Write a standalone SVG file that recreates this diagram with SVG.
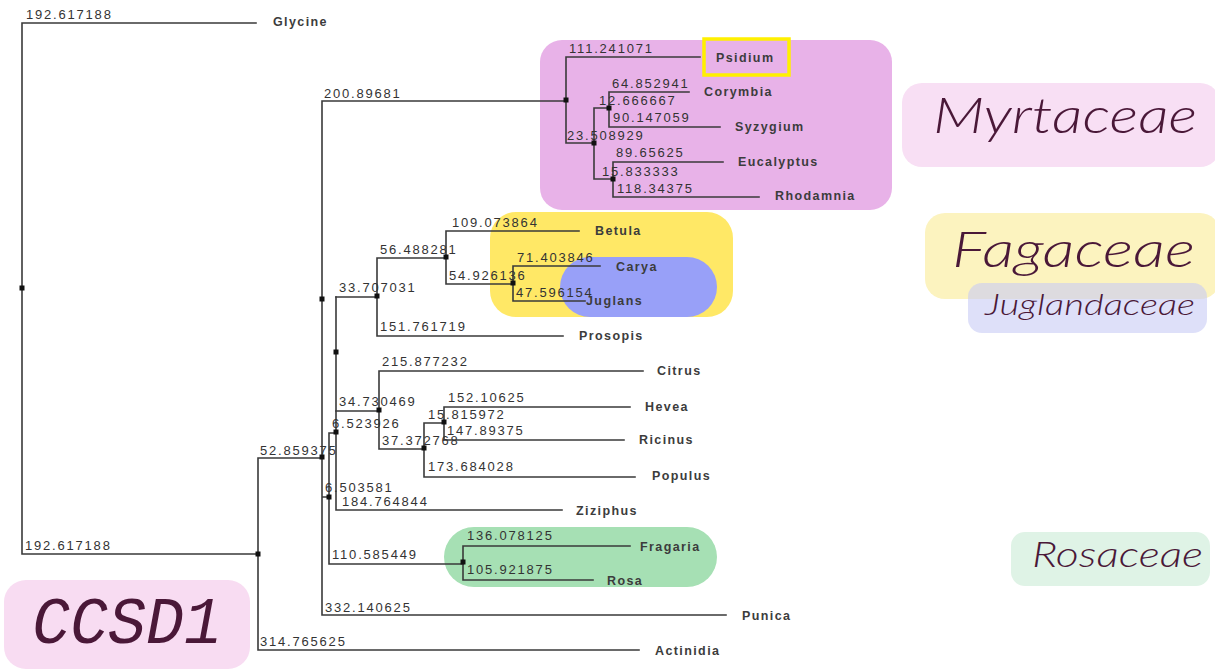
<svg xmlns="http://www.w3.org/2000/svg" width="1215" height="670" viewBox="0 0 1215 670">
<style>
.br{stroke:#3a3a3a;stroke-width:1.6;fill:none;stroke-linecap:square}
.dot{fill:#111}
.bl{font-family:"Liberation Sans",Arial,sans-serif;font-size:13px;fill:#333;letter-spacing:1.8px}
.tip{font-family:"Liberation Sans",Arial,sans-serif;font-size:12.5px;font-weight:bold;fill:#3c3c3c;letter-spacing:1.4px}
.fam{font-family:Lato,"Noto Sans",sans-serif;font-style:italic;font-weight:300;fill:#4a1838}
.ccsd{font-family:"Liberation Mono","DejaVu Sans Mono",monospace;font-style:italic;fill:#4a1838}
</style>
<rect width="1215" height="670" fill="#ffffff"/>

<g id="highlights">
  <rect x="540" y="40" width="352" height="170" rx="22" fill="#e8b2e8"/>
  <rect x="490" y="212" width="243" height="105" rx="26" fill="#ffe866"/>
  <rect x="560" y="257" width="157" height="60" rx="30" fill="#98a0f8"/>
  <rect x="444" y="527" width="273" height="60" rx="30" fill="#a6e0b4"/>
  <rect x="704" y="39" width="85" height="36" fill="none" stroke="#fff000" stroke-width="3.5"/>
</g>

<g id="legend">
  <g id="fam-myrtaceae">
    <rect x="902" y="83" width="318" height="84" rx="20" fill="#f8dff4"/>
    <text class="fam" x="933" y="133" font-size="50" textLength="264" lengthAdjust="spacingAndGlyphs">Myrtaceae</text>
  </g>
  <g id="fam-fagaceae">
    <rect x="925" y="213" width="295" height="86" rx="20" fill="#fcf3bf"/>
    <text class="fam" x="952" y="267" font-size="50" textLength="243" lengthAdjust="spacingAndGlyphs">Fagaceae</text>
  </g>
  <g id="fam-juglandaceae">
    <rect x="968" y="283" width="239" height="50" rx="14" fill="#c8cbf5" fill-opacity="0.6"/>
    <text class="fam" x="985" y="315" font-size="30" textLength="210" lengthAdjust="spacingAndGlyphs">Juglandaceae</text>
  </g>
  <g id="fam-rosaceae">
    <rect x="1011" y="532" width="199" height="54" rx="14" fill="#dff3e6"/>
    <text class="fam" x="1032" y="567" font-size="35" textLength="171" lengthAdjust="spacingAndGlyphs">Rosaceae</text>
  </g>
  <g id="title-ccsd1">
    <rect x="4" y="580" width="246" height="89" rx="22" fill="#f8dcf2"/>
    <text class="ccsd" x="32" y="643" font-size="66" textLength="190" lengthAdjust="spacingAndGlyphs">CCSD1</text>
  </g>
</g>

<g id="connectors" class="br">
  <path d="M22 23V554M22 23H256M22 554H258"/>
  <path d="M258 458V650M258 458H322M258 650H639"/>
  <path d="M322 101V615M322 615H726M322 101H566M322 497H329"/>
  <path d="M566 57V143M566 57H700M566 143H594"/>
  <path d="M594 108V179M594 108H609M594 179H613"/>
  <path d="M609 92V127M609 92H689M609 127H720"/>
  <path d="M613 162V197M613 162H723M613 197H759"/>
  <path d="M329 433V564M329 433H336M329 564H463"/>
  <path d="M336 297V510M336 510H562"/>
  <path d="M336 297H377M336 411H379"/>
  <path d="M377 258V336M377 258H446M377 336H563"/>
  <path d="M446 231V284M446 231H579M446 284H513"/>
  <path d="M513 266V301M513 266H600M513 301H585"/>
  <path d="M379 371V449M379 371H643M379 449H424"/>
  <path d="M424 423V477M424 423H444M424 477H635"/>
  <path d="M444 407V440M444 407H630M444 440H624"/>
  <path d="M463 546V580M463 546H630M463 580H593"/>
</g>

<g id="internal-nodes">
  <rect id="n-root" class="dot" x="19.5" y="285.5" width="5" height="5"/>
  <rect id="n-u" class="dot" x="255.5" y="551.5" width="5" height="5"/>
  <rect id="n-v" class="dot" x="319.5" y="454.5" width="5" height="5"/>
  <rect id="n-w" class="dot" x="319.5" y="296.5" width="5" height="5"/>
  <rect id="n-m" class="dot" x="563.5" y="97.5" width="5" height="5"/>
  <rect id="n-n" class="dot" x="591.5" y="140.5" width="5" height="5"/>
  <rect id="n-p" class="dot" x="606.5" y="105.5" width="5" height="5"/>
  <rect id="n-q" class="dot" x="610.5" y="176.5" width="5" height="5"/>
  <rect id="n-z" class="dot" x="326.5" y="494.5" width="5" height="5"/>
  <rect id="n-y" class="dot" x="333.5" y="429.5" width="5" height="5"/>
  <rect id="n-x" class="dot" x="333.5" y="349.5" width="5" height="5"/>
  <rect id="n-f" class="dot" x="374.5" y="293.5" width="5" height="5"/>
  <rect id="n-b" class="dot" x="443.5" y="254.5" width="5" height="5"/>
  <rect id="n-j" class="dot" x="510.5" y="280.5" width="5" height="5"/>
  <rect id="n-c" class="dot" x="376.5" y="407.5" width="5" height="5"/>
  <rect id="n-e" class="dot" x="421.5" y="445.5" width="5" height="5"/>
  <rect id="n-g" class="dot" x="441.5" y="419.5" width="5" height="5"/>
  <rect id="n-r" class="dot" x="460.5" y="559.5" width="5" height="5"/>
</g>

<g id="branch-lengths">
  <text class="bl" x="26" y="19">192.617188</text>
  <text class="bl" x="324" y="98">200.89681</text>
  <text class="bl" x="569" y="53">111.241071</text>
  <text class="bl" x="612" y="88">64.852941</text>
  <text class="bl" x="599" y="105">12.666667</text>
  <text class="bl" x="613" y="122">90.147059</text>
  <text class="bl" x="567" y="140">23.508929</text>
  <text class="bl" x="616" y="157">89.65625</text>
  <text class="bl" x="602" y="176">15.833333</text>
  <text class="bl" x="617" y="193">118.34375</text>
  <text class="bl" x="452" y="227">109.073864</text>
  <text class="bl" x="380" y="254">56.488281</text>
  <text class="bl" x="517" y="262">71.403846</text>
  <text class="bl" x="449" y="280">54.926136</text>
  <text class="bl" x="339" y="292">33.707031</text>
  <text class="bl" x="516" y="297">47.596154</text>
  <text class="bl" x="380" y="331">151.761719</text>
  <text class="bl" x="382" y="366">215.877232</text>
  <text class="bl" x="448" y="402">152.10625</text>
  <text class="bl" x="339" y="406">34.730469</text>
  <text class="bl" x="428" y="419">15.815972</text>
  <text class="bl" x="332" y="428">6.523926</text>
  <text class="bl" x="447" y="435">147.89375</text>
  <text class="bl" x="382" y="445">37.372768</text>
  <text class="bl" x="260" y="455">52.859375</text>
  <text class="bl" x="428" y="471">173.684028</text>
  <text class="bl" x="325" y="492">6.503581</text>
  <text class="bl" x="342" y="506">184.764844</text>
  <text class="bl" x="467" y="540">136.078125</text>
  <text class="bl" x="25" y="550">192.617188</text>
  <text class="bl" x="332" y="559">110.585449</text>
  <text class="bl" x="467" y="574">105.921875</text>
  <text class="bl" x="325" y="612">332.140625</text>
  <text class="bl" x="260" y="646">314.765625</text>
</g>

<g id="taxa">
  <g id="t-glycine"><text class="tip" x="273" y="26">Glycine</text></g>
  <g id="t-psidium"><text class="tip" x="716" y="62">Psidium</text></g>
  <g id="t-corymbia"><text class="tip" x="704" y="96">Corymbia</text></g>
  <g id="t-syzygium"><text class="tip" x="735" y="131">Syzygium</text></g>
  <g id="t-eucalyptus"><text class="tip" x="738" y="166">Eucalyptus</text></g>
  <g id="t-rhodamnia"><text class="tip" x="775" y="200">Rhodamnia</text></g>
  <g id="t-betula"><text class="tip" x="595" y="235">Betula</text></g>
  <g id="t-carya"><text class="tip" x="616" y="271">Carya</text></g>
  <g id="t-juglans"><text class="tip" x="586" y="305">Juglans</text></g>
  <g id="t-prosopis"><text class="tip" x="579" y="340">Prosopis</text></g>
  <g id="t-citrus"><text class="tip" x="657" y="375">Citrus</text></g>
  <g id="t-hevea"><text class="tip" x="645" y="411">Hevea</text></g>
  <g id="t-ricinus"><text class="tip" x="639" y="444">Ricinus</text></g>
  <g id="t-populus"><text class="tip" x="652" y="480">Populus</text></g>
  <g id="t-ziziphus"><text class="tip" x="576" y="515">Ziziphus</text></g>
  <g id="t-fragaria"><text class="tip" x="640" y="551">Fragaria</text></g>
  <g id="t-rosa"><text class="tip" x="607" y="585">Rosa</text></g>
  <g id="t-punica"><text class="tip" x="742" y="620">Punica</text></g>
  <g id="t-actinidia"><text class="tip" x="655" y="655">Actinidia</text></g>
</g>
</svg>
